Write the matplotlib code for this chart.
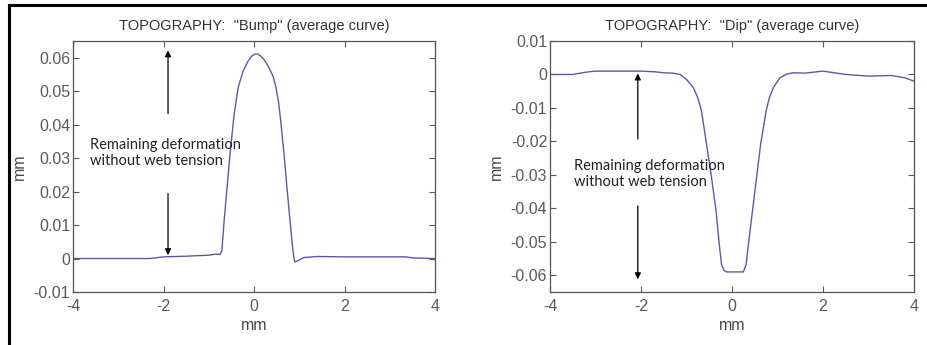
import matplotlib.pyplot as plt
from matplotlib.lines import Line2D

# data
bump_x = [-4, -3, -2.3, -2.0, -1.5, -1.0, -0.85, -0.75, -0.71, -0.66, -0.53, -0.44, -0.35, -0.24,
          -0.13, -0.05, 0.02, 0.08, 0.15, 0.22, 0.29, 0.35, 0.42, 0.48, 0.54, 0.59, 0.663, 0.73,
          0.796, 0.84, 0.87, 0.9, 0.95, 1.1, 1.4, 2.0, 3.0, 3.35, 3.5, 4]
bump_y = [0, 0, 0, 0.0005, 0.0007, 0.001, 0.0013, 0.0012, 0.0024, 0.0113, 0.0312, 0.043, 0.0511, 0.056,
          0.059, 0.0605, 0.0611, 0.0611, 0.0605, 0.0595, 0.058, 0.0565, 0.0545, 0.0515, 0.047, 0.0412, 0.0312, 0.021,
          0.0113, 0.005, 0.0014, -0.001, -0.0008, 0.0003, 0.0006, 0.0005, 0.0005, 0.0005, 0.0002, 0]

dip_x = [-4, -3.5, -3.2, -3.0, -2.5, -2.0, -1.7, -1.5, -1.3, -1.14, -1.0, -0.85, -0.75, -0.67,
         -0.56, -0.45, -0.35, -0.28, -0.23, -0.18, -0.12, 0.25, 0.29, 0.31, 0.36, 0.45, 0.54, 0.63,
         0.75, 0.82, 0.91, 1.05, 1.2, 1.34, 1.6, 2.0, 2.5, 3.0, 3.5, 3.8, 4]
dip_y = [0, 0, 0.0007, 0.001, 0.001, 0.001, 0.0008, 0.0005, 0.0004, 0.0, -0.0015, -0.0039, -0.007, -0.0109,
         -0.0208, -0.0308, -0.0408, -0.0508, -0.0568, -0.0585, -0.059, -0.059, -0.0575, -0.0568, -0.0508, -0.0408, -0.0308, -0.0208,
         -0.0109, -0.007, -0.0039, -0.001, 0.0001, 0.0005, 0.0004, 0.001, 0, -0.0005, -0.0003, -0.001, -0.002]

xticks = [-4, -2, 0, 2, 4]
bump_yticks = [-0.01, 0, 0.01, 0.02, 0.03, 0.04, 0.05, 0.06]
dip_yticks = [0.01, 0, -0.01, -0.02, -0.03, -0.04, -0.05, -0.06]

plt.rcParams['font.family'] = ['Liberation Sans', 'DejaVu Sans']
line_col = '#5a5aa8'
tick_col = '#5a5a5a'
note = 'Remaining deformation\nwithout web tension'

fig = plt.figure(figsize=(9.27, 3.45), dpi=100, facecolor='white')
W, H = 927, 345

def px_axes(x0, x1, y0, y1):
    return fig.add_axes([x0 / W, 1 - y1 / H, (x1 - x0) / W, (y1 - y0) / H])

def style(ax, yticks, ylim, title):
    ax.set_xlim(-4, 4)
    ax.set_ylim(*ylim)
    ax.set_xticks(xticks)
    ax.set_xticklabels([str(t) for t in xticks])
    ax.set_yticks(yticks)
    ax.set_yticklabels([('%g' % t) for t in yticks])
    ax.tick_params(direction='in', top=True, right=True, length=4, width=0.8,
                   labelsize=11.5, colors=tick_col, pad=2)
    ax.tick_params(axis='x', pad=5)
    for s in ax.spines.values():
        s.set_color('#555555')
        s.set_linewidth(0.9)
    ax.set_title(title, fontsize=10.5, color='#333333', pad=8)
    ax.set_xlabel('mm', fontsize=11.5, color='#444444', labelpad=3)
    ax.set_ylabel('mm', fontsize=11.5, color='#444444', labelpad=5)

def arrow(ax, x, y_from, y_to):
    ax.annotate('', xy=(x, y_to), xytext=(x, y_from),
                arrowprops=dict(arrowstyle='-|>', color='black', lw=0.9,
                                mutation_scale=9, shrinkA=0, shrinkB=0))

# left: bump
ax1 = px_axes(73, 435, 41, 292)
ax1.plot(bump_x, bump_y, color=line_col, lw=1.0)
style(ax1, bump_yticks, (-0.01, 0.065), 'TOPOGRAPHY:  "Bump" (average curve)')
arrow(ax1, -1.9, 0.0433, 0.0622)
arrow(ax1, -1.9, 0.0194, 0.0010)
ax1.text(-3.62, 0.0315, note, fontsize=10.5, family=['Lato', 'DejaVu Sans'],
         color='#222222', va='center', ha='left', linespacing=1.2)

# right: dip
ax2 = px_axes(550, 914, 41, 292)
ax2.plot(dip_x, dip_y, color=line_col, lw=1.0)
style(ax2, dip_yticks, (-0.065, 0.01), 'TOPOGRAPHY:  "Dip" (average curve)')
arrow(ax2, -2.07, -0.0193, 0.0003)
arrow(ax2, -2.07, -0.0393, -0.0612)
ax2.text(-3.47, -0.0298, note, fontsize=10.5, family=['Lato', 'DejaVu Sans'],
         color='#222222', va='center', ha='left', linespacing=1.2)

# frame of the original picture
fig.add_artist(Line2D([9 / W, 9 / W], [0, 1 - 5 / H], color='black', lw=2.2,
                      transform=fig.transFigure))
fig.add_artist(Line2D([9 / W, 1], [1 - 5 / H, 1 - 5 / H], color='black', lw=2.2,
                      transform=fig.transFigure))

fig.savefig('out.png', dpi=100)
